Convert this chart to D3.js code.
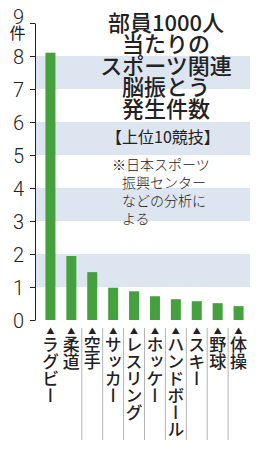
<!DOCTYPE html>
<html><head><meta charset="utf-8">
<script src="https://cdn.jsdelivr.net/npm/d3@7"></script>
<style>
html,body{margin:0;padding:0;background:#fff;}
svg{display:block;}
</style></head>
<body>
<script>
const categories = ["ラグビー","柔道","空手","サッカー","レスリング","ホッケー","ハンドボール","スキー","野球","体操"];
const values = [8.1,1.94,1.45,0.98,0.87,0.72,0.63,0.57,0.51,0.42];
const yTicks = [0,1,2,3,4,5,6,7,8,9];
const bands = [[1,2],[3,4],[5,6],[7,8]];
const titleLines = ["部員1000人","当たりの","スポーツ関連","脳振とう","発生件数"];
const subtitle = "【上位10競技】";
const noteLines = ["※日本スポーツ","振興センター","などの分析に","よる"];
const unit = "件";

const W = 258, H = 450;
const svg = d3.select("body").append("svg").attr("width", W).attr("height", H);

const y = d3.scaleLinear().domain([0, 9]).range([320, 23]);
const x = d3.scalePoint().domain(categories).range([40, 249]).padding(0.5);
const step = x.step();
const barW = 10;
const green = "#45a03e";
const jp = "'Noto Sans CJK JP', sans-serif";

// bands
svg.append("g").selectAll("rect").data(bands).join("rect")
  .attr("x", 36).attr("width", 214)
  .attr("y", d => y(d[1])).attr("height", d => y(d[0]) - y(d[1]))
  .attr("fill", "#dde5f1");

// y axis
const yAxis = d3.axisLeft(y).tickValues(yTicks).tickSize(5).tickSizeOuter(0).tickFormat(d3.format("d"));
const ga = svg.append("g").attr("transform", "translate(35,0)").call(yAxis);
ga.select(".domain").attr("stroke", "#222").attr("stroke-width", 1);
ga.selectAll(".tick line").attr("stroke", "#222");
ga.selectAll(".tick text")
  .attr("font-family", "Roboto, sans-serif").attr("font-weight", 300)
  .attr("font-size", 20).attr("fill", "#222").attr("x", -11).attr("dy", "0.36em");
ga.selectAll(".tick").filter(d => d === 9).select("text").attr("dy", "0em");

svg.append("text").attr("x", 17.5).attr("y", 39).attr("text-anchor", "middle")
  .attr("font-family", jp).attr("font-size", 16).attr("fill", "#222").text(unit);

// bars
svg.append("g").selectAll("rect").data(values).join("rect")
  .attr("x", (d, i) => x(categories[i]) - barW / 2)
  .attr("width", barW)
  .attr("y", d => y(d))
  .attr("height", d => y(0) - y(d))
  .attr("fill", green);

// separators
svg.append("g").selectAll("line").data(categories.slice(1, -1)).join("line")
  .attr("x1", d => x(d) + step / 2).attr("x2", d => x(d) + step / 2)
  .attr("y1", 328).attr("y2", 440)
  .attr("stroke", "#aaa").attr("stroke-width", 0.9);

// category labels
const lab = svg.append("g").selectAll("g").data(categories).join("g")
  .attr("transform", d => `translate(${x(d)},0)`);
lab.append("text").attr("x", 0).attr("y", 334).attr("text-anchor", "middle")
  .attr("font-size", 8).attr("fill", "#222").attr("font-family", jp).text("▲");
lab.append("text").attr("x", 0).attr("y", 336)
  .style("writing-mode", "vertical-rl")
  .attr("font-family", jp).attr("font-size", 17).attr("font-weight", 500).attr("fill", "#222")
  .text(d => d);

// title
const tg = svg.append("g").attr("font-family", jp).attr("text-anchor", "middle").attr("fill", "#222");
tg.selectAll("text.t").data(titleLines).join("text").attr("class", "t")
  .attr("x", 166).attr("y", (d, i) => 31 + i * 21.4)
  .attr("font-size", 22).attr("font-weight", 500).text(d => d);
tg.append("text").attr("x", 163).attr("y", 143).attr("font-size", 16).attr("font-weight", 400).text(subtitle);

// note
svg.append("g").attr("font-family", jp).attr("font-size", 14).attr("font-weight", 300).attr("fill", "#222")
  .selectAll("text").data(noteLines).join("text")
  .attr("x", (d, i) => i === 0 ? 112 : 122)
  .attr("y", (d, i) => 170 + i * 18)
  .text(d => d);
</script>
</body></html>
